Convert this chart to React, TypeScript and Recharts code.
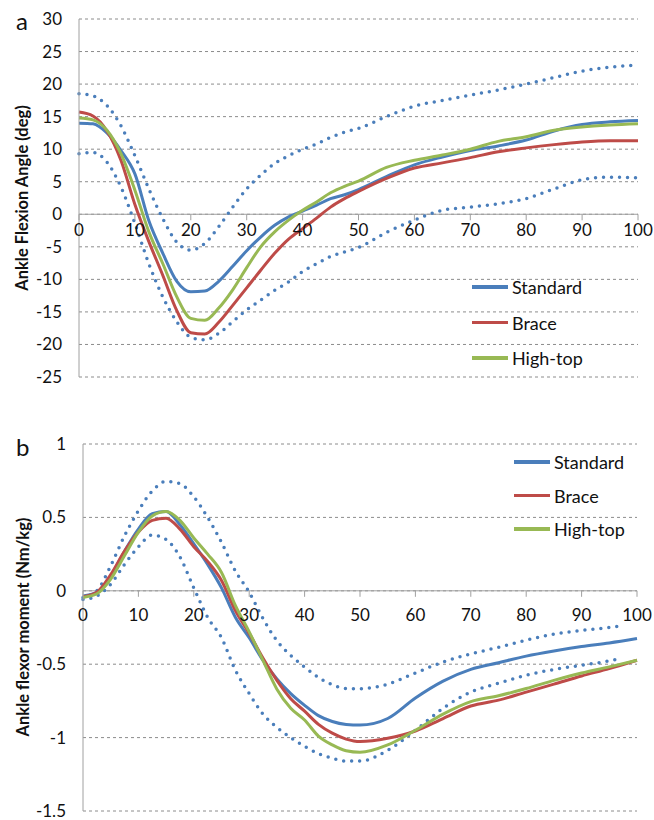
import { LineChart, Line, XAxis, YAxis, CartesianGrid, ReferenceLine, Legend } from 'recharts';

// gait cycle (%)
const PCT = [0, 2.5, 5, 7.5, 10, 12.5, 15, 17.5, 20, 22.5, 25, 27.5, 30, 32.5, 35, 37.5, 40, 42.5, 45, 47.5, 50, 55, 60, 65, 70, 75, 80, 85, 90, 95, 100];
const SD_MOMENT_PCT = [0, 2.5, 5, 7.5, 10, 12.5, 15, 17.5, 20, 22.5, 25, 27.5, 30, 32.5, 35, 37.5, 40, 42.5, 45, 47.5, 50, 55, 60, 65, 70, 75, 80, 85, 90, 95, 97];

// panel a: ankle flexion angle (deg)
const ANGLE_STANDARD = [14.0, 13.9, 12.5, 9.8, 6.2, -1.0, -6.0, -10.3, -11.9, -11.8, -10.3, -8.0, -5.6, -3.5, -1.7, -0.4, 0.5, 1.4, 2.4, 3.0, 3.8, 5.8, 7.6, 8.8, 9.8, 10.5, 11.4, 12.8, 13.8, 14.2, 14.4];
const ANGLE_BRACE = [15.7, 15.1, 12.8, 8.3, 1.5, -4.2, -9.4, -14.8, -18.2, -18.4, -16.6, -14.0, -11.3, -8.6, -6.0, -3.8, -2.2, -0.6, 1.1, 2.4, 3.5, 5.5, 7.1, 7.9, 8.7, 9.6, 10.2, 10.7, 11.1, 11.3, 11.3];
const ANGLE_HIGHTOP = [14.8, 14.5, 12.9, 9.3, 3.7, -2.7, -7.6, -12.7, -16.0, -16.3, -14.4, -11.6, -8.2, -5.0, -2.7, -0.9, 0.6, 1.9, 3.3, 4.3, 5.1, 7.2, 8.3, 9.1, 10.0, 11.2, 11.9, 12.9, 13.4, 13.7, 13.9];
const ANGLE_SD_UPPER = [18.5, 18.2, 16.7, 13.6, 9.0, 3.9, -0.7, -4.3, -5.5, -4.5, -1.9, 1.1, 3.9, 6.0, 7.8, 9.0, 10.0, 10.8, 11.8, 12.6, 13.2, 15.0, 16.6, 17.5, 18.3, 19.1, 20.0, 21.0, 22.0, 22.6, 22.9];
const ANGLE_SD_LOWER = [9.3, 9.5, 8.0, 4.2, -1.4, -7.6, -12.7, -16.5, -18.9, -19.3, -18.3, -16.5, -14.7, -13.2, -11.7, -10.4, -8.8, -7.6, -6.5, -5.8, -5.1, -2.8, -0.9, 0.6, 1.1, 1.6, 2.4, 3.9, 5.3, 5.7, 5.6];

// panel b: ankle flexor moment (Nm/kg)
const MOMENT_STANDARD = [-0.035, -0.01, 0.1, 0.27, 0.42, 0.525, 0.54, 0.45, 0.32, 0.18, 0.02, -0.18, -0.32, -0.475, -0.6, -0.7, -0.78, -0.85, -0.89, -0.91, -0.915, -0.87, -0.73, -0.615, -0.535, -0.49, -0.445, -0.41, -0.38, -0.355, -0.325];
const MOMENT_BRACE = [-0.04, -0.01, 0.11, 0.27, 0.4, 0.48, 0.495, 0.42, 0.3, 0.2, 0.07, -0.135, -0.29, -0.46, -0.61, -0.735, -0.82, -0.91, -0.97, -1.01, -1.027, -1.005, -0.955, -0.87, -0.785, -0.745, -0.69, -0.636, -0.58, -0.53, -0.473];
const MOMENT_HIGHTOP = [-0.045, -0.02, 0.08, 0.24, 0.4, 0.51, 0.54, 0.48, 0.36, 0.25, 0.125, -0.1, -0.28, -0.475, -0.67, -0.8, -0.88, -0.99, -1.05, -1.09, -1.1, -1.05, -0.95, -0.84, -0.755, -0.715, -0.666, -0.61, -0.56, -0.518, -0.473];
const MOMENT_SD_UPPER = [-0.045, 0.0, 0.17, 0.375, 0.545, 0.68, 0.745, 0.73, 0.64, 0.5, 0.33, 0.135, -0.01, -0.19, -0.34, -0.44, -0.52, -0.59, -0.64, -0.665, -0.667, -0.636, -0.56, -0.485, -0.43, -0.385, -0.336, -0.295, -0.27, -0.25, -0.24];
const MOMENT_SD_LOWER = [-0.06, -0.035, 0.045, 0.18, 0.3, 0.38, 0.35, 0.23, 0.02, -0.18, -0.32, -0.54, -0.7, -0.84, -0.93, -1.0, -1.06, -1.11, -1.14, -1.16, -1.16, -1.086, -0.95, -0.8, -0.69, -0.63, -0.575, -0.536, -0.507, -0.477, -0.46];

const X_TICKS = [0, 10, 20, 30, 40, 50, 60, 70, 80, 90, 100];
const ANGLE_TICKS = [-25, -20, -15, -10, -5, 0, 5, 10, 15, 20, 25, 30];
const MOMENT_TICKS = [-1.5, -1, -0.5, 0, 0.5, 1];
const LEGEND_ORDER = ['Standard', 'Brace', 'High-top'];

const BLUE = '#4a7ebb';
const RED = '#be4b48';
const GREEN = '#98b954';
const FONT = 'Lato, "Open Sans", sans-serif';
const INK = '#111';
const W = 654;
const LEGEND_W = 130;

const toRows = (xs: number[], ys: number[]) => xs.map((x, i) => ({ x, y: ys[i] }));

const makeXTick = (zeroY: number, labelDy: number) => (props: any) => {
  const { x, payload } = props;
  return (
    <g>
      <line x1={x} x2={x} y1={zeroY} y2={zeroY + 6} stroke="#a0a0a0" />
      <text x={x} y={zeroY + labelDy} dy="0.355em" textAnchor="middle" fontSize={17} fontFamily={FONT} fill={INK}>
        {payload.value}
      </text>
    </g>
  );
};

// html legend so the labels are never clipped by an svg box
const makeLegend = (rowGap: number) => (props: any) => {
  const items = (props.payload || [])
    .filter((p: any) => LEGEND_ORDER.includes(p.value))
    .sort((a: any, b: any) => LEGEND_ORDER.indexOf(a.value) - LEGEND_ORDER.indexOf(b.value));
  return (
    <div style={{ width: LEGEND_W, fontFamily: FONT, fontSize: 18, color: INK }}>
      {items.map((p: any) => (
        <div key={p.value} style={{ display: 'flex', alignItems: 'center', height: rowGap, whiteSpace: 'nowrap' }}>
          <span style={{ display: 'inline-block', width: 36, height: 3.5, background: p.color, marginRight: 4 }} />
          <span>{p.value}</span>
        </div>
      ))}
    </div>
  );
};

const dotted = { stroke: BLUE, strokeWidth: 3.5, strokeDasharray: '0 8', strokeLinecap: 'round' as const };

type PanelProps = {
  height: number;
  margin: { top: number; right: number; bottom: number; left: number };
  axisWidth: number;
  domain: [number, number];
  ticks: number[];
  labelDy: number;
  legendPos: { left: number; top: number };
  rowGap: number;
  series: { name: string; xs: number[]; ys: number[]; sd?: boolean; color: string }[];
};

const Panel = ({ height, margin, axisWidth, domain, ticks, labelDy, legendPos, rowGap, series }: PanelProps) => {
  const xAxisH = 1;
  const plotH = height - margin.top - margin.bottom - xAxisH;
  const zeroY = margin.top + (plotH * domain[1]) / (domain[1] - domain[0]);
  return (
    <LineChart width={W} height={height} margin={margin}>
      <CartesianGrid vertical={false} stroke="#8c8c8c" strokeDasharray="3 3" />
      <XAxis
        type="number"
        dataKey="x"
        domain={[0, 100]}
        ticks={X_TICKS}
        interval={0}
        height={xAxisH}
        axisLine={false}
        tickLine={false}
        tick={makeXTick(zeroY, labelDy)}
      />
      <YAxis
        type="number"
        domain={domain}
        ticks={ticks}
        interval={0}
        width={axisWidth}
        allowDataOverflow
        axisLine={{ stroke: '#a0a0a0' }}
        tickLine={false}
        tickSize={0}
        tickMargin={17}
        tick={{ fontSize: 17, fontFamily: FONT, fill: INK }}
      />
      <ReferenceLine y={0} stroke="#a0a0a0" />
      {series.map((s) => (
        <Line
          key={s.name}
          data={toRows(s.xs, s.ys)}
          dataKey="y"
          name={s.name}
          type="monotone"
          dot={false}
          activeDot={false}
          isAnimationActive={false}
          legendType={s.sd ? 'none' : 'line'}
          {...(s.sd ? dotted : { stroke: s.color, strokeWidth: 3 })}
        />
      ))}
      <Legend
        layout="horizontal"
        verticalAlign="middle"
        align="center"
        content={makeLegend(rowGap)}
        wrapperStyle={{ left: legendPos.left, top: legendPos.top, width: LEGEND_W, height: rowGap * 3, overflow: 'visible' }}
      />
    </LineChart>
  );
};

export default function App() {
  return (
    <div style={{ position: 'absolute', left: 0, top: 0, width: W, height: 820, background: '#fff' }}>
      <Panel
        height={400}
        margin={{ top: 19, right: 16, bottom: 22, left: 0 }}
        axisWidth={79}
        domain={[-25, 30]}
        ticks={ANGLE_TICKS}
        labelDy={16}
        legendPos={{ left: 472, top: 287 - 35.5 / 2 }}
        rowGap={35.5}
        series={[
          { name: 'SD upper', xs: PCT, ys: ANGLE_SD_UPPER, sd: true, color: BLUE },
          { name: 'SD lower', xs: PCT, ys: ANGLE_SD_LOWER, sd: true, color: BLUE },
          { name: 'Standard', xs: PCT, ys: ANGLE_STANDARD, color: BLUE },
          { name: 'Brace', xs: PCT, ys: ANGLE_BRACE, color: RED },
          { name: 'High-top', xs: PCT, ys: ANGLE_HIGHTOP, color: GREEN },
        ]}
      />
      <Panel
        height={420}
        margin={{ top: 44, right: 17, bottom: 8, left: 0 }}
        axisWidth={83}
        domain={[-1.5, 1]}
        ticks={MOMENT_TICKS}
        labelDy={24}
        legendPos={{ left: 514, top: 62 - 33.5 / 2 }}
        rowGap={33.5}
        series={[
          { name: 'SD upper', xs: SD_MOMENT_PCT, ys: MOMENT_SD_UPPER, sd: true, color: BLUE },
          { name: 'SD lower', xs: SD_MOMENT_PCT, ys: MOMENT_SD_LOWER, sd: true, color: BLUE },
          { name: 'Standard', xs: PCT, ys: MOMENT_STANDARD, color: BLUE },
          { name: 'Brace', xs: PCT, ys: MOMENT_BRACE, color: RED },
          { name: 'High-top', xs: PCT, ys: MOMENT_HIGHTOP, color: GREEN },
        ]}
      />
      <svg width={W} height={820} style={{ position: 'absolute', left: 0, top: 0, pointerEvents: 'none' }}>
        <text x={16} y={30} fontSize={24} fontFamily={FONT} fill={INK}>a</text>
        <text x={16} y={456} fontSize={24} fontFamily={FONT} fill={INK}>b</text>
        <text
          transform="translate(22,198) rotate(-90)"
          textAnchor="middle"
          dominantBaseline="central"
          fontSize={16.5}
          fontWeight="bold"
          fontFamily={FONT}
          fill={INK}
        >
          Ankle Flexion Angle (deg)
        </text>
        <text
          transform="translate(23,627) rotate(-90)"
          textAnchor="middle"
          dominantBaseline="central"
          fontSize={16.5}
          fontWeight="bold"
          fontFamily={FONT}
          fill={INK}
        >
          Ankle flexor moment (Nm/kg)
        </text>
      </svg>
    </div>
  );
}
